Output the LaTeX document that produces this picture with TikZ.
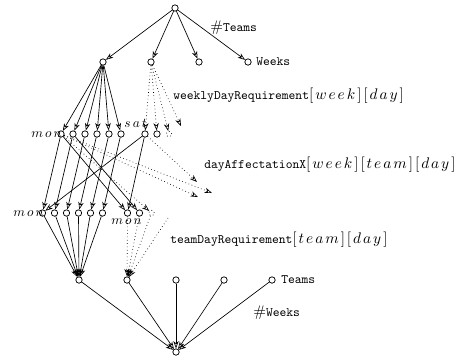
\documentclass[tikz,border=0pt]{standalone}
\usepackage{fix-cm}
\usetikzlibrary{arrows.meta}
% index brackets in spaced-out math italic
\newcommand\lsp{\mkern2.3mu}
\newcommand\ixs[1]{{\fontsize{11.5}{13}\selectfont$#1$}}
\newcommand\hsh{{\fontsize{11.5}{13}\selectfont$\#$}}
\newcommand\dsp{\mkern2.8mu}
\tikzset{
  obj/.style={circle,draw,line width=0.55pt,fill=white,inner sep=0pt,minimum size=4.8pt},
  ghost/.style={circle,draw,dotted,line width=0.55pt,inner sep=0pt,minimum size=4pt},
  link/.style={line width=0.5pt,-{Stealth[open,length=5.5pt,width=4pt,inset=1.6pt]}},
  maybe/.style={link,dotted},
  lbl/.style={inner sep=0pt,font=\fontsize{9.7}{11}\selectfont\ttfamily},
  dayname/.style={inner sep=0pt,font=\fontsize{10}{12}\selectfont},
}
\begin{document}
\begin{tikzpicture}[x=0.75pt,y=-0.75pt]
\useasboundingbox (0,0) rectangle (456,358);

% root object and its fields
\node[obj] (top) at (175,8) {};
\node[obj] (aff) at (103,62) {};
\node[obj] (wdr) at (151,62) {};
\node[obj] (mid) at (199,62) {};
\node[obj] (wks) at (248,62) {};

% first row of day cells
\foreach \i in {0,...,5} {
  \node[obj] (a\i) at ({61+12*\i},134) {};
}
\node[obj] (a6) at (145,134) {};
\node[obj] (a7) at (157,134) {};
\node[ghost] (a8) at (169,134) {};

% second row of day cells
\foreach \i in {0,...,5} {
  \node[obj] (b\i) at ({42.5+12*\i},213) {};
}
\node[obj] (b6) at (127.5,213) {};
\node[obj] (b7) at (139.5,213) {};
\node[ghost] (b8) at (151.5,213) {};

% lower objects
\node[obj] (c0) at (79,280) {};
\node[obj] (c1) at (127,280) {};
\node[obj] (c2) at (176,280) {};
\node[obj] (c3) at (224,280) {};
\node[obj] (c4) at (272,280) {};
\node[obj] (bot) at (176,352) {};

% loose ends of elided references
\coordinate (f1) at (181,126);
\coordinate (f2) at (197,182);
\coordinate (f3) at (212,193);
\coordinate (f4) at (198,197);
\coordinate (f5) at (168,218);

% labels
\node[lbl,anchor=base west] (tteams) at (210,31) {\hsh Teams};
\node[lbl,anchor=base west] (tweeks) at (256,65.5) {Weeks};
\node[lbl,anchor=base west] (twdr) at (173,99)
  {weeklyDayRequirement\ixs{[\lsp w\lsp e\lsp e\lsp k\lsp]\lsp[\lsp d\lsp a\lsp y\lsp]}};
\node[lbl,anchor=base west] (tdax) at (204,168.5)
  {dayAffectationX\ixs{[\lsp w\lsp e\lsp e\lsp k\lsp]\lsp[\lsp t\lsp e\lsp a\lsp m\lsp]\lsp[\lsp d\lsp a\lsp y\lsp]}};
\node[lbl,anchor=base west] (ttdr) at (170,243.5)
  {teamDayRequirement\ixs{[\lsp t\lsp e\lsp a\lsp m\lsp]\lsp[\lsp d\lsp a\lsp y\lsp]}};
\node[lbl,anchor=base west] (tteams2) at (281,283.5) {Teams};
\node[lbl,anchor=base west] (tweeks2) at (253,316.5) {\hsh Weeks};
\node[dayname,anchor=base east] (mona) at (62,137.5) {$m\dsp o\dsp n$};
\node[dayname,anchor=base east] (sata) at (147,127.5) {$s\dsp a\dsp t$};
\node[dayname,anchor=base east] (monb) at (44,216.5) {$m\dsp o\dsp n$};
\node[dayname,anchor=base west] (monc) at (111,224) {$m\dsp o\dsp n$};

% references from the root
\foreach \t in {aff,wdr,mid,wks} \draw[link] (top) -- (\t);

% first field to its day cells
\foreach \i in {0,...,5} \draw[link] (aff) -- (a\i);
\foreach \t in {a6,a7,a8} \draw[maybe] (wdr) -- (\t);
\draw[maybe] (wdr) -- (f1);

% first row to second row
\foreach \i in {0,...,5} \draw[link] (a\i) -- (b\i);
\draw[link] (a0) -- (b6);
\draw[link] (a1) -- (b7);
\draw[link] (a6) -- (b0);
\draw[link] (a6) -- (b6);
\draw[maybe] (a0) -- (b8);
\draw[maybe] (a0) -- (f3);
\draw[maybe] (a0) -- (f4);
\draw[maybe] (a6) -- (f2);

% second row to the lower objects
\foreach \i in {0,...,5} \draw[link] (b\i) -- (c0);
\foreach \t in {b6,b7,b8} \draw[maybe] (\t) -- (c1);
\draw[maybe] (f5) -- (c1);

% lower objects to the bottom node
\foreach \t in {c0,c1,c2,c3,c4} \draw[link] (\t) -- (bot);
\end{tikzpicture}
\end{document}
